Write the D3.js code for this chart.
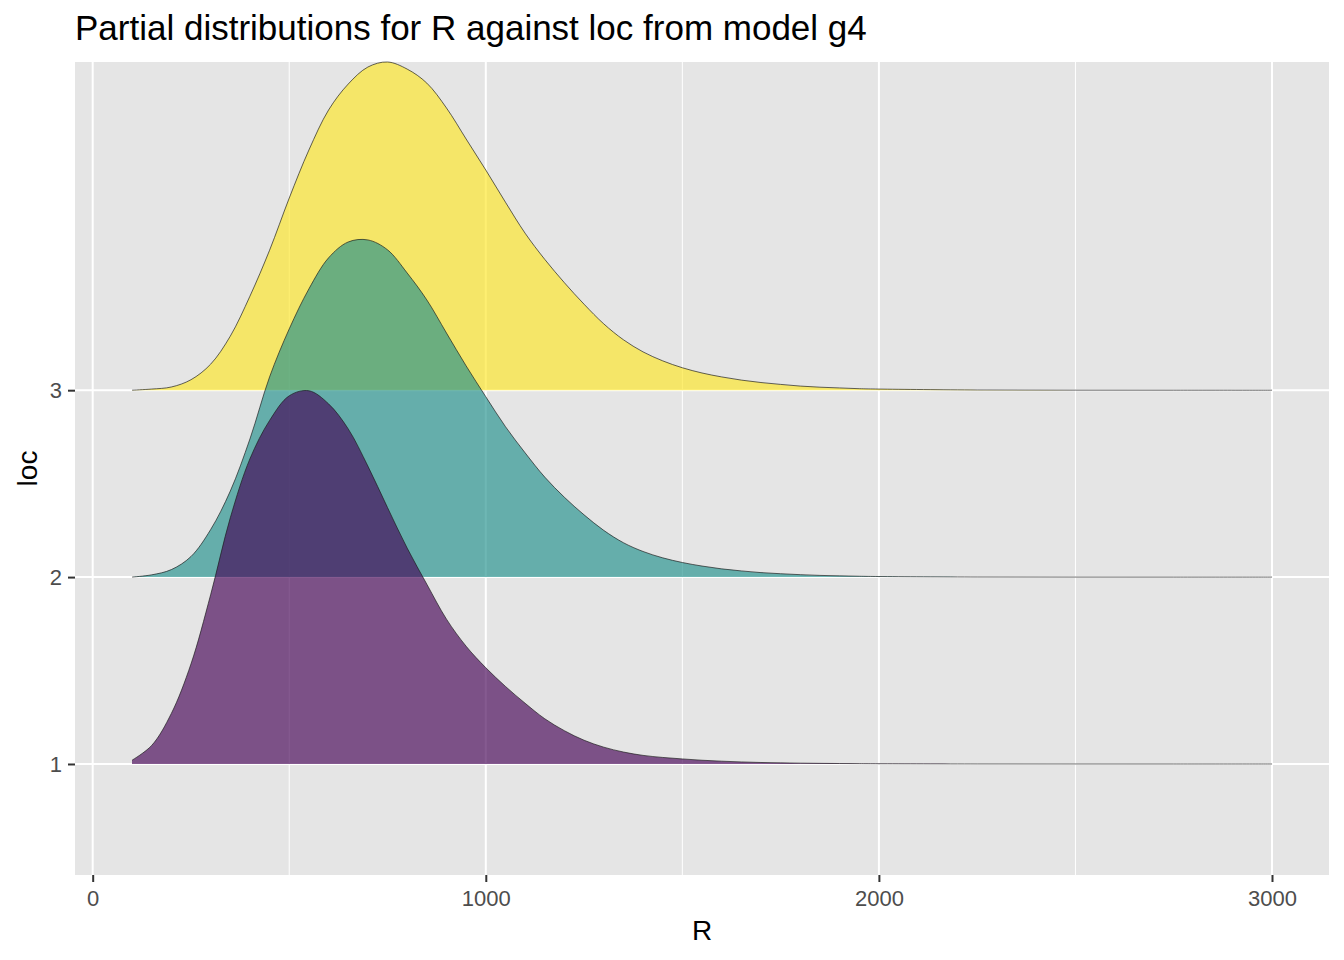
<!DOCTYPE html>
<html><head><meta charset="utf-8">
<script src="https://cdn.jsdelivr.net/npm/d3@7"></script>
<style>
body{margin:0;background:#fff}
svg{display:block}
text{font-family:"Liberation Sans",Arial,Helvetica,sans-serif}
</style>
</head><body>
<svg id="chart" width="1344" height="960"></svg>
<script>
// ---- data ----
const rValues = [100,150,200,250,300,350,400,450,500,550,600,650,700,750,800,850,900,950,1000,1050,1100,1150,1200,1250,1300,1350,1400,1450,1500,1550,1600,1650,1700,1750,1800,1850,1900,1950,2000,2250,2500,2750,3000];
const loc1Density = [0.020,0.099,0.270,0.535,0.905,1.317,1.633,1.838,1.970,1.997,1.927,1.793,1.594,1.372,1.155,0.962,0.775,0.630,0.515,0.415,0.325,0.242,0.178,0.127,0.090,0.064,0.046,0.035,0.027,0.020,0.015,0.011,0.008,0.006,0.0045,0.0034,0.0025,0.0018,0.0013,0.0004,0.0001,0.00005,0.00002];
const loc2Density = [0.000,0.012,0.040,0.110,0.254,0.460,0.739,1.071,1.328,1.542,1.708,1.793,1.804,1.751,1.627,1.483,1.306,1.130,0.965,0.805,0.665,0.535,0.427,0.333,0.250,0.184,0.137,0.103,0.078,0.059,0.044,0.033,0.024,0.018,0.013,0.009,0.0065,0.0045,0.003,0.0006,0.0001,0.00002,0.0];
const loc3Density = [0.000,0.006,0.017,0.056,0.139,0.289,0.503,0.749,1.028,1.285,1.499,1.638,1.729,1.756,1.718,1.643,1.510,1.344,1.178,1.006,0.840,0.700,0.575,0.460,0.355,0.270,0.205,0.157,0.120,0.092,0.071,0.054,0.041,0.031,0.022,0.016,0.012,0.008,0.006,0.0012,0.0002,0.00005,0.0];
const locLabels = ["1","2","3"];
const xTickValues = [0,1000,2000,3000];
const xMinorValues = [500,1500,2500];
const fillColors = ["#440154","#21908C","#FDE725"];
const titleText = "Partial distributions for R against loc from model g4";
const xTitle = "R";
const yTitle = "loc";

// ---- layout ----
const svg = d3.select("#chart");
const panel = {left:75, right:1329, top:62, bottom:875};

const x = d3.scaleLinear().domain([-45, 3145]).range([panel.left, panel.right]);
const y = d3.scaleLinear().domain([0.406, 4.756]).range([panel.bottom, panel.top]);

// panel background
svg.append("rect").attr("x",panel.left).attr("y",panel.top)
  .attr("width",panel.right-panel.left).attr("height",panel.bottom-panel.top)
  .attr("fill","#E5E5E5");

// minor grid
svg.append("g").selectAll("line").data(xMinorValues).join("line")
  .attr("x1",d=>x(d)).attr("x2",d=>x(d)).attr("y1",panel.top).attr("y2",panel.bottom)
  .attr("stroke","#fff").attr("stroke-width",1);
// major grid
svg.append("g").selectAll("line").data(xTickValues).join("line")
  .attr("x1",d=>x(d)).attr("x2",d=>x(d)).attr("y1",panel.top).attr("y2",panel.bottom)
  .attr("stroke","#fff").attr("stroke-width",2);
svg.append("g").selectAll("line").data(locLabels).join("line")
  .attr("x1",panel.left).attr("x2",panel.right).attr("y1",(d,i)=>y(i+1)).attr("y2",(d,i)=>y(i+1))
  .attr("stroke","#fff").attr("stroke-width",2);

// ridges
const series = [loc1Density, loc2Density, loc3Density];
const ridges = series.map((dens,i)=>({base:i+1, pts:rValues.map((r,j)=>({r:r,h:dens[j]})), color:fillColors[i]}));
const drawOrder = ridges.slice().reverse();
const curve = d3.curveCatmullRom.alpha(0.5);

const g = svg.append("g");
drawOrder.forEach(rd=>{
  const area = d3.area().x(d=>x(d.r)).y0(y(rd.base)).y1(d=>y(rd.base+Math.max(0,d.h))).curve(curve);
  const line = d3.line().x(d=>x(d.r)).y(d=>y(rd.base+Math.max(0,d.h))).curve(curve);
  g.append("path").datum(rd.pts).attr("d",area).attr("fill",rd.color).attr("fill-opacity",0.65);
  g.append("path").datum(rd.pts).attr("d",line).attr("fill","none").attr("stroke","#1a1a1a").attr("stroke-width",0.8).attr("stroke-opacity",0.85);
});

// x axis
const xAxis = svg.append("g").attr("transform",`translate(0,${panel.bottom})`)
  .call(d3.axisBottom(x).tickValues(xTickValues).tickSize(7).tickPadding(8).tickFormat(d3.format("d")));
xAxis.select(".domain").remove();
xAxis.selectAll("line").attr("stroke","#333").attr("stroke-width",2);
xAxis.selectAll("text").attr("fill","#4D4D4D").attr("font-size",22);

// y axis
const yAxis = svg.append("g").attr("transform",`translate(${panel.left},0)`)
  .call(d3.axisLeft(y).tickValues([1,2,3]).tickSize(7).tickPadding(6).tickFormat((d,i)=>locLabels[i]));
yAxis.select(".domain").remove();
yAxis.selectAll("line").attr("stroke","#333").attr("stroke-width",2);
yAxis.selectAll("text").attr("fill","#4D4D4D").attr("font-size",22);

// titles
svg.append("text").attr("x",panel.left).attr("y",40).attr("font-size",35).attr("fill","#000").text(titleText);
svg.append("text").attr("x",(panel.left+panel.right)/2).attr("y",940).attr("text-anchor","middle").attr("font-size",28).attr("fill","#000").text(xTitle);
svg.append("text").attr("transform",`translate(36.5,${(panel.top+panel.bottom)/2}) rotate(-90)`).attr("text-anchor","middle").attr("font-size",28).attr("fill","#000").text(yTitle);
</script>
</body></html>
